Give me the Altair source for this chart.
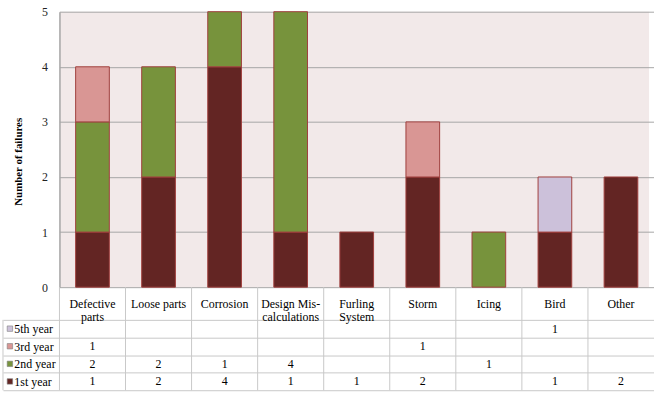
import json
import altair as alt
import pandas as pd

# ---------------- data ----------------
categories = ["Defective parts", "Loose parts", "Corrosion", "Design Mis-calculations",
              "Furling System", "Storm", "Icing", "Bird", "Other"]
header_lines = {
    "Defective parts": ["Defective", "parts"],
    "Design Mis-calculations": ["Design Mis-", "calculations"],
    "Furling System": ["Furling", "System"],
}
series = ["1st year", "2nd year", "3rd year", "5th year"]
year1 = [1, 2, 4, 1, 1, 2, 0, 1, 2]
year2 = [2, 2, 1, 4, 0, 0, 1, 0, 0]
year3 = [1, 0, 0, 0, 0, 1, 0, 0, 0]
year5 = [0, 0, 0, 0, 0, 0, 0, 1, 0]
colors = ["#632523", "#77933C", "#D99694", "#CCC1DA"]
table_rows = ["5th year", "3rd year", "2nd year", "1st year"]
y_ticks = [0, 1, 2, 3, 4, 5]

FONT = "Liberation Serif, Times New Roman, serif"
GRID = "#A6A6A6"
TLINE = "#C8C8C8"
FS = 12

records = []
for i, (name, vals) in enumerate(zip(series, [year1, year2, year3, year5])):
    for cat, v in zip(categories, vals):
        records.append({"category": cat, "series": name, "row": name, "value": v, "order": i})
df = pd.DataFrame(records)

label_expr = "datum.label"
for cat, lines in header_lines.items():
    label_expr = f"datum.label == '{cat}' ? {json.dumps(lines)} : ({label_expr})"

PW = 595
RANGE = [0, 600]
TOP_H = 278
TAB_H = 71
HEAD_H = 33

# ---------------- top stacked bar chart ----------------
top = alt.Chart(df).transform_filter("datum.value > 0").mark_bar(
    stroke="#A0403E", strokeWidth=1
).encode(
    x=alt.X("category:N", sort=categories,
            scale=alt.Scale(domain=categories, range=RANGE, paddingInner=0.49, paddingOuter=0.245),
            axis=None),
    y=alt.Y("value:Q", stack="zero",
            scale=alt.Scale(domain=[0, 5], nice=False),
            axis=alt.Axis(values=y_ticks, format="d", title="Number of failures",
                          grid=True, gridColor=GRID, gridWidth=1, ticks=False,
                          domain=True, domainColor=GRID, domainWidth=1.5,
                          labelFont=FONT, labelFontSize=FS, labelColor="#222",
                          labelPadding=12,
                          titleFont=FONT, titleFontSize=11, titleFontWeight="bold",
                          titleColor="#000", titleAngle=270, titleBaseline="bottom",
                          titleX=-36, titleY=151)),
    color=alt.Color("series:N", scale=alt.Scale(domain=series, range=colors), legend=None),
    order=alt.Order("order:Q", sort="ascending"),
).properties(width=PW, height=TOP_H,
             view=alt.ViewBackground(fill="#F2E9E9", stroke=None))

# ---------------- data table ----------------
x_scale_tab = alt.Scale(domain=categories, range=RANGE, paddingInner=0, paddingOuter=0)
x_axis_tab = alt.Axis(orient="top", title=None, ticks=False, domain=False, grid=False,
                      labelExpr=label_expr, labelAngle=0, labelBaseline="middle",
                      labelAlign="center", labelPadding=16.5, labelLineHeight=13.5,
                      labelFont=FONT, labelFontSize=FS, labelColor="#000")
x_tab = alt.X("category:N", sort=categories, scale=x_scale_tab, axis=x_axis_tab)
y_tab = alt.Y("row:N", sort=table_rows,
              scale=alt.Scale(domain=table_rows, paddingInner=0, paddingOuter=0),
              axis=alt.Axis(title=None, tickBand="extent", tickSize=57, tickColor=TLINE,
                            grid=True, gridColor=TLINE, domain=False,
                            labelAlign="left", labelPadding=-11, labelBaseline="middle",
                            labelFont=FONT, labelFontSize=FS, labelColor="#000"))

vlines = alt.Chart(pd.DataFrame({"category": categories})).mark_rule(
    color=TLINE, strokeWidth=1
).encode(
    x=alt.X("category:N", sort=categories, scale=x_scale_tab, bandPosition=0, axis=x_axis_tab),
    y=alt.value(-HEAD_H), y2=alt.value(TAB_H),
)

left_border = alt.Chart(pd.DataFrame({"a": [0]})).mark_rule(color=TLINE, strokeWidth=1).encode(
    x=alt.value(-57), y=alt.value(0), y2=alt.value(TAB_H)
)

cells = alt.Chart(df).transform_filter("datum.value > 0").mark_text(
    font=FONT, fontSize=FS, color="#000"
).encode(
    x=x_tab, y=y_tab, text=alt.Text("value:Q", format="d")
)

squares = alt.Chart(pd.DataFrame({"row": table_rows})).mark_point(
    shape="square", filled=True, size=30, opacity=1, stroke="#7F7F7F", strokeWidth=0.6
).encode(
    y=y_tab, x=alt.value(-50),
    color=alt.Color("row:N", scale=alt.Scale(domain=series, range=colors), legend=None),
)

table = alt.layer(vlines, left_border, cells, squares).properties(
    width=PW, height=TAB_H, view=alt.ViewBackground(fill=None, stroke=None)
)

chart = alt.vconcat(top, table, spacing=HEAD_H, bounds="flush").resolve_scale(
    x="independent", y="independent", color="independent"
).properties(
    padding={"left": 2, "top": 4, "right": 0, "bottom": 0}
).configure_view(stroke=None)

chart.save("out.html", embed_options={"renderer": "svg", "actions": False})
